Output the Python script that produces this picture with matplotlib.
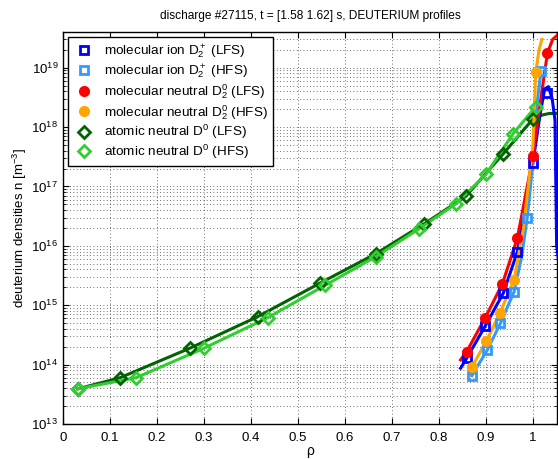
import numpy as np
import matplotlib
matplotlib.use("Agg")
import matplotlib.pyplot as plt
from matplotlib.ticker import LogLocator, NullFormatter, FixedLocator
from matplotlib.lines import Line2D

# ---- data ----
# marker positions
rho_ion_lfs = [0.859, 0.898, 0.937, 0.967, 1.000, 1.031]
n_ion_lfs = [1.28e14, 4.4e14, 1.6e15, 8.0e15, 2.5e17, 3.8e18]
rho_ion_hfs = [0.870, 0.903, 0.931, 0.960, 0.988, 1.017]
n_ion_hfs = [6.5e13, 1.77e14, 5.0e14, 1.7e15, 3.0e16, 8.7e18]
rho_neu_lfs = [0.859, 0.898, 0.935, 0.967, 1.000, 1.031]
n_neu_lfs = [1.66e14, 6.05e14, 2.3e15, 1.36e16, 3.2e17, 1.78e19]
rho_neu_hfs = [0.870, 0.901, 0.930, 0.960, 1.006]
n_neu_hfs = [9.0e13, 2.5e14, 7.5e14, 2.7e15, 8.4e18]
rho_at_lfs = [0.031, 0.121, 0.270, 0.414, 0.547, 0.666, 0.769, 0.857, 0.936, 1.000]
n_at_lfs = [3.9e13, 6.0e13, 1.89e14, 6.4e14, 2.36e15, 7.4e15, 2.36e16, 6.8e16, 3.5e17, 1.37e18]
rho_at_hfs = [0.031, 0.155, 0.299, 0.436, 0.557, 0.666, 0.757, 0.836, 0.900, 0.958, 1.006]
n_at_hfs = [3.9e13, 6.0e13, 1.87e14, 6.2e14, 2.15e15, 6.6e15, 1.92e16, 5.1e16, 1.6e17, 7.8e17, 2.2e18]

# fitted curves
fit_rho_ion_lfs = [0.846, 0.859, 0.898, 0.937, 0.967, 1.000, 1.015, 1.025, 1.033, 1.041, 1.047, 1.0505, 1.10]
fit_n_ion_lfs = [8.7e13, 1.28e14, 4.4e14, 1.6e15, 8.0e15, 2.5e17, 1.6e18, 4.4e18, 4.8e18, 3.0e18, 1.3e18, 1.0e16, 1.0e13]
fit_rho_ion_hfs = [0.870, 0.903, 0.931, 0.960, 0.976, 0.988, 1.000, 1.008, 1.017]
fit_n_ion_hfs = [6.5e13, 1.77e14, 5.0e14, 1.7e15, 6.6e15, 3.0e16, 2.5e17, 2.2e18, 8.7e18]
fit_rho_neu_lfs = [0.846, 0.859, 0.898, 0.935, 0.967, 1.000, 1.020, 1.031, 1.042, 1.053]
fit_n_neu_lfs = [1.2e14, 1.66e14, 6.05e14, 2.3e15, 1.36e16, 3.2e17, 4.5e18, 1.78e19, 3.0e19, 3.6e19]
fit_rho_neu_hfs = [0.868, 0.901, 0.930, 0.960, 0.980, 1.000, 1.006, 1.013, 1.019]
fit_n_neu_hfs = [8.5e13, 2.5e14, 7.5e14, 2.7e15, 2.0e16, 5.0e17, 8.4e18, 2.0e19, 3.0e19]
fit_rho_at_lfs = [0.031, 0.121, 0.270, 0.414, 0.547, 0.666, 0.769, 0.857, 0.936, 1.000, 1.020, 1.035, 1.052]
fit_n_at_lfs = [3.9e13, 6.0e13, 1.89e14, 6.4e14, 2.36e15, 7.4e15, 2.36e16, 6.8e16, 3.5e17, 1.37e18, 1.6e18, 1.7e18, 1.7e18]
fit_rho_at_hfs = [0.031, 0.155, 0.299, 0.436, 0.557, 0.666, 0.757, 0.836, 0.900, 0.958, 1.006, 1.013]
fit_n_at_hfs = [3.9e13, 6.0e13, 1.87e14, 6.2e14, 2.15e15, 6.6e15, 1.92e16, 5.1e16, 1.6e17, 7.8e17, 2.2e18, 2.6e18]

labels = [r"molecular ion D$_2^+$ (LFS)", r"molecular ion D$_2^+$ (HFS)",
          r"molecular neutral D$_2^0$ (LFS)", r"molecular neutral D$_2^0$ (HFS)",
          r"atomic neutral D$^0$ (LFS)", r"atomic neutral D$^0$ (HFS)"]
xticklabels = ['0', '0.1', '0.2', '0.3', '0.4', '0.5', '0.6', '0.7', '0.8', '0.9', '1']
title = "discharge #27115, t = [1.58 1.62] s, DEUTERIUM profiles"

plt.rcParams['font.family'] = ['Liberation Sans', 'DejaVu Sans']
plt.rcParams['mathtext.fontset'] = 'custom'
plt.rcParams['mathtext.rm'] = 'Liberation Sans'
plt.rcParams['mathtext.it'] = 'Liberation Sans:italic'

fig = plt.figure(figsize=(5.58, 4.59), dpi=100)
ax = fig.add_axes([0.113, 0.0763, 0.885, 0.854])

c_blue = '#0000ff'
c_lblue = '#3399ff'
c_red = '#ff0000'
c_orange = '#ffa500'
c_dgreen = '#006400'
c_lgreen = '#33cc33'

lw = 2.2
series = [
    (fit_rho_at_lfs, fit_n_at_lfs, rho_at_lfs, n_at_lfs, c_dgreen, 'D', False),
    (fit_rho_at_hfs, fit_n_at_hfs, rho_at_hfs, n_at_hfs, c_lgreen, 'D', False),
    (fit_rho_ion_lfs, fit_n_ion_lfs, rho_ion_lfs, n_ion_lfs, c_blue, 's', False),
    (fit_rho_ion_hfs, fit_n_ion_hfs, rho_ion_hfs, n_ion_hfs, c_lblue, 's', False),
    (fit_rho_neu_lfs, fit_n_neu_lfs, rho_neu_lfs, n_neu_lfs, c_red, 'o', True),
    (fit_rho_neu_hfs, fit_n_neu_hfs, rho_neu_hfs, n_neu_hfs, c_orange, 'o', True),
]
for fx, fy, x, y, c, m, filled in series:
    ax.plot(fx, fy, '-', color=c, lw=lw, zorder=3)
    fc = c if filled else 'none'
    ax.plot(x, y, ls='none', marker=m, ms=6, mfc=fc, mec=c, mew=2, zorder=4)

ax.set_yscale('log')
ax.set_xlim(0, 1.051)
ax.set_ylim(1e13, 4e19)
ax.xaxis.set_major_locator(FixedLocator(np.arange(0, 1.01, 0.1)))
ax.set_xticklabels(xticklabels)
ax.yaxis.set_major_locator(LogLocator(base=10, numticks=20))
ax.yaxis.set_minor_locator(LogLocator(base=10, subs=np.arange(2, 10), numticks=20))
ax.yaxis.set_minor_formatter(NullFormatter())
ax.tick_params(which='both', direction='in', top=True, right=True, labelsize=9.5)
ax.tick_params(axis='x', pad=6)
ax.tick_params(which='major', length=4)
ax.tick_params(which='minor', length=2)
gstyle = dict(ls=(0, (1, 3)), color='0.25', lw=0.6)
ax.grid(True, which='major', axis='both', **gstyle)
ax.grid(True, which='minor', axis='y', **gstyle)
for s in ax.spines.values():
    s.set_linewidth(1.0)

ax.set_xlabel("ρ", fontsize=10, labelpad=0)
ax.set_ylabel(r"deuterium densities n [m$^{-3}$]", fontsize=9.5, labelpad=2)
ax.set_title(title, fontsize=8.6, pad=9)

handles = []
for fx, fy, x, y, c, m, filled in [series[2], series[3], series[4], series[5], series[0], series[1]]:
    fc = c if filled else 'none'
    handles.append(Line2D([], [], ls='none', marker=m, ms=6, mfc=fc, mec=c, mew=2))
leg = ax.legend(handles, labels, loc='upper left', fontsize=9.7, frameon=True, fancybox=False,
                edgecolor='k', framealpha=1, borderaxespad=0.4, handletextpad=0.7,
                labelspacing=0.12, borderpad=0.35, handlelength=1.6)
leg.get_frame().set_linewidth(1.0)
leg.set_zorder(10)

fig.savefig('out.png', dpi=100)
